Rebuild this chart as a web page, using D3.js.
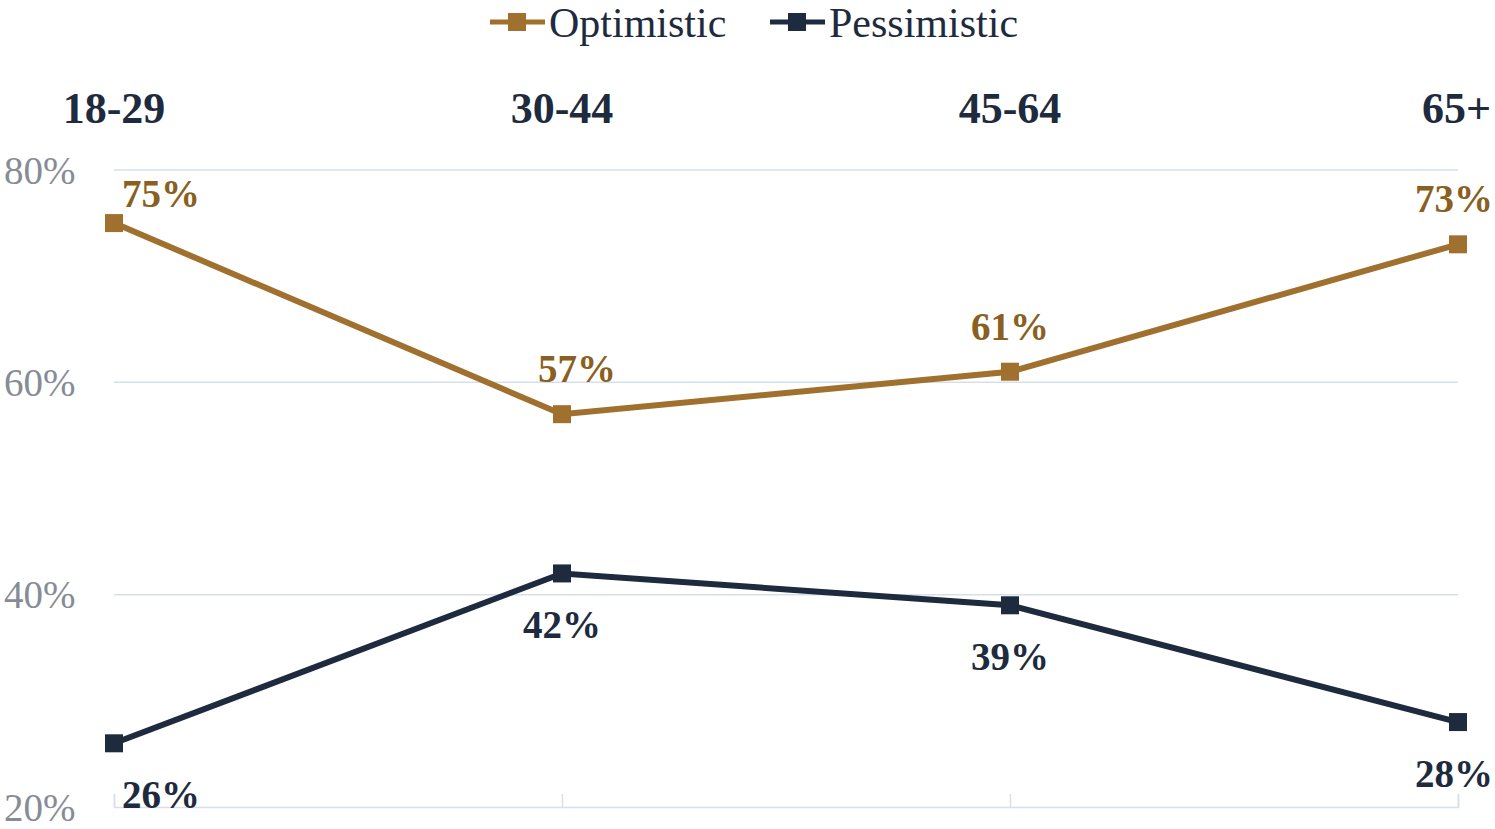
<!DOCTYPE html>
<html>
<head>
<meta charset="utf-8">
<script src="https://cdn.jsdelivr.net/npm/d3@7"></script>
<style>
  body { margin: 0; background: #fff; }
  svg text { font-family: "Liberation Serif", "DejaVu Serif", serif; }
</style>
</head>
<body>
<div id="chart"></div>
<script>
"use strict";
// tranches d'âge et valeurs
const categories = ["18-29", "30-44", "45-64", "65+"];
const optimistic = [75, 57, 61, 73];
const pessimistic = [26, 42, 39, 28];
const yTicks = [20, 40, 60, 80];
const seriesNames = ["Optimistic", "Pessimistic"];
const colors = ["#a0702f", "#1e2a3d"];

const width = 1495, height = 829;
const margin = {left: 114, right: 37, top: 170, bottom: 22};

const svg = d3.select("#chart").append("svg")
    .attr("width", width).attr("height", height);

const x = d3.scalePoint().domain(categories)
    .range([margin.left, width - margin.right]);
const y = d3.scaleLinear().domain([20, 80])
    .range([height - margin.bottom, margin.top]);

// grille
svg.append("g").selectAll("line").data(yTicks.filter(d => d > 20)).join("line")
    .attr("x1", x.range()[0]).attr("x2", x.range()[1])
    .attr("y1", d => y(d)).attr("y2", d => y(d))
    .attr("stroke", "#d6dfeb").attr("stroke-width", 1.5);

// axe du bas (ticks vers le haut)
const xAxis = svg.append("g")
    .attr("transform", `translate(0,${y(20)})`)
    .call(d3.axisBottom(x).tickSize(-13).tickFormat(""));
xAxis.select(".domain").attr("stroke", "#d6dfeb").attr("stroke-width", 1.5);
xAxis.selectAll(".tick line").attr("stroke", "#d6dfeb").attr("stroke-width", 1.5);

// étiquettes y
svg.append("g").selectAll("text").data(yTicks).join("text")
    .attr("x", 4).attr("y", d => y(d))
    .attr("dy", "0.35em")
    .attr("font-size", 39).attr("fill", "#868c96")
    .text(d => d + "%");

// catégories en haut
svg.append("g").selectAll("text").data(categories).join("text")
    .attr("x", (d, i) => i == categories.length - 1 ? width - 4 : x(d)).attr("y", 123)
    .attr("text-anchor", (d, i) => i == categories.length - 1 ? "end" : "middle")
    .attr("font-size", 44).attr("font-weight", "bold").attr("fill", "#1e2a3d")
    .text(d => d);

const line = d3.line().x((d, i) => x(categories[i])).y(d => y(d));
const last = categories.length - 1;

[optimistic, pessimistic].forEach((vals, s) => {
    const g = svg.append("g");
    g.append("path").datum(vals)
        .attr("d", line).attr("fill", "none")
        .attr("stroke", colors[s]).attr("stroke-width", 6);
    g.selectAll("rect").data(vals).join("rect")
        .attr("x", (d, i) => x(categories[i]) - 9)
        .attr("y", d => y(d) - 9)
        .attr("width", 18).attr("height", 18)
        .attr("fill", colors[s]);
    //étiquettes : première à gauche, dernière collée au bord droit
    g.selectAll("text").data(vals).join("text")
        .attr("x", (d, i) => i == last ? width - 2 : x(categories[i]) + (i == 0 ? 8 : i == 1 && s == 0 ? 15 : 0))
        .attr("y", d => s == 0 ? Math.max(y(d) - 32, y(80) + 37) : y(d) + 65)
        .attr("text-anchor", (d, i) => i == 0 ? "start" : i == last ? "end" : "middle")
        .attr("font-size", 39).attr("font-weight", "bold")
        .attr("fill", s == 0 ? "#8a5f22" : colors[1])
        .text(d => d + "%");
});

// légende
const legendX = [490, 770];
const leg = svg.append("g").selectAll("g").data(seriesNames).join("g")
    .attr("transform", (d, i) => `translate(${legendX[i]},22)`);
leg.append("line").attr("x1", 0).attr("x2", 55)
    .attr("stroke", (d, i) => colors[i]).attr("stroke-width", 5);
leg.append("rect").attr("x", 18).attr("y", -9).attr("width", 18).attr("height", 18)
    .attr("fill", (d, i) => colors[i]);
leg.append("text").attr("x", 59).attr("y", 15)
    .attr("font-size", 42).attr("fill", "#1e2a3d")
    .text(d => d);
</script>
</body>
</html>
